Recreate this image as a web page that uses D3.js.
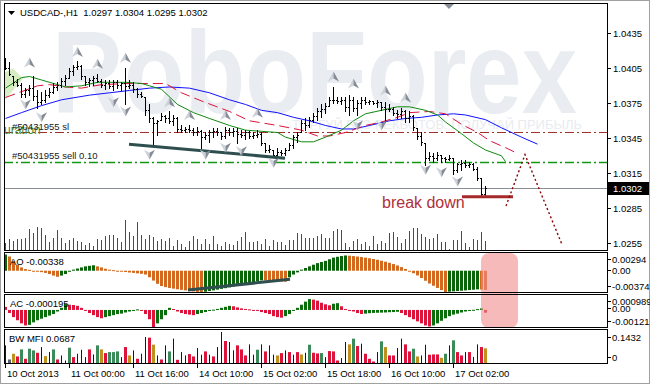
<!DOCTYPE html>
<html>
<head>
<meta charset="utf-8">
<script src="https://cdn.jsdelivr.net/npm/d3@7"></script>
<style>
  html, body { margin: 0; padding: 0; background: #fff; }
  svg { display: block; font-family: "Liberation Sans", Arial, sans-serif; }
</style>
</head>
<body>
<svg id="chart" width="650" height="384"></svg>
<script>
// ---- price bars (USDCAD H1) ----
const highs = [1.0414,1.0410,1.0398,1.0396,1.0392,1.0388,1.0391,1.0398,1.0386,1.0385,
  1.0386,1.0388,1.0392,1.0393,1.0397,1.0399,1.0405,1.0408,1.0411,1.0408,
  1.0398,1.0397,1.0398,1.0400,1.0396,1.0395,1.0395,1.0395,1.0395,1.0393,
  1.0405,1.0395,1.0393,1.0388,1.0385,1.0380,1.0374,1.0363,1.0361,1.0367,
  1.0365,1.0368,1.0365,1.0363,1.0356,1.0355,1.0356,1.0354,1.0355,1.0352,
  1.0350,1.0352,1.0354,1.0354,1.0350,1.0355,1.0354,1.0354,1.0354,1.0352,
  1.0352,1.0351,1.0350,1.0352,1.0350,1.0341,1.0339,1.0335,1.0337,1.0335,
  1.0337,1.0341,1.0348,1.0350,1.0361,1.0362,1.0363,1.0367,1.0371,1.0374,
  1.0375,1.0380,1.0389,1.0380,1.0380,1.0380,1.0382,1.0380,1.0378,1.0380,
  1.0380,1.0378,1.0377,1.0378,1.0376,1.0376,1.0374,1.0372,1.0369,1.0371,
  1.0369,1.0368,1.0365,1.0354,1.0350,1.0341,1.0333,1.0332,1.0333,1.0331,
  1.0329,1.0331,1.0328,1.0324,1.0326,1.0326,1.0325,1.0324,1.0320,1.0311,
  1.0304]
const lows = [1.0404,1.0399,1.0391,1.0390,1.0380,1.0380,1.0382,1.0378,1.0371,1.0374,
  1.0376,1.0380,1.0384,1.0386,1.0389,1.0391,1.0397,1.0399,1.0404,1.0396,
  1.0391,1.0390,1.0391,1.0393,1.0389,1.0387,1.0388,1.0386,1.0388,1.0386,
  1.0374,1.0388,1.0385,1.0380,1.0380,1.0365,1.0359,1.0338,1.0348,1.0361,
  1.0359,1.0358,1.0356,1.0350,1.0350,1.0350,1.0350,1.0348,1.0348,1.0337,
  1.0344,1.0342,1.0346,1.0348,1.0344,1.0345,1.0348,1.0347,1.0341,1.0346,
  1.0344,1.0345,1.0345,1.0346,1.0339,1.0333,1.0333,1.0329,1.0329,1.0331,
  1.0331,1.0335,1.0337,1.0342,1.0350,1.0352,1.0355,1.0359,1.0361,1.0363,
  1.0367,1.0373,1.0375,1.0375,1.0374,1.0368,1.0365,1.0368,1.0365,1.0371,
  1.0374,1.0374,1.0374,1.0372,1.0369,1.0359,1.0368,1.0365,1.0362,1.0362,
  1.0359,1.0359,1.0352,1.0344,1.0339,1.0322,1.0326,1.0325,1.0326,1.0325,
  1.0325,1.0326,1.0314,1.0316,1.0318,1.0320,1.0320,1.0318,1.0309,1.0295,
  1.0295]
const opens = [1.0410,1.0405,1.0398,1.0393,1.0391,1.0383,1.0386,1.0388,1.0381,1.0376,
  1.0378,1.0382,1.0385,1.0389,1.0391,1.0394,1.0397,1.0403,1.0406,1.0407,
  1.0398,1.0393,1.0395,1.0397,1.0394,1.0391,1.0392,1.0390,1.0393,1.0391,
  1.0392,1.0390,1.0391,1.0387,1.0383,1.0380,1.0369,1.0362,1.0358,1.0361,
  1.0364,1.0362,1.0360,1.0362,1.0353,1.0352,1.0353,1.0352,1.0350,1.0351,
  1.0346,1.0348,1.0350,1.0351,1.0350,1.0347,1.0352,1.0350,1.0351,1.0349,
  1.0348,1.0350,1.0347,1.0348,1.0349,1.0341,1.0335,1.0335,1.0331,1.0333,
  1.0332,1.0335,1.0339,1.0346,1.0350,1.0358,1.0356,1.0361,1.0364,1.0368,
  1.0370,1.0373,1.0378,1.0378,1.0377,1.0378,1.0372,1.0378,1.0371,1.0375,
  1.0378,1.0376,1.0377,1.0375,1.0376,1.0372,1.0370,1.0370,1.0367,1.0366,
  1.0368,1.0362,1.0364,1.0354,1.0347,1.0341,1.0328,1.0330,1.0328,1.0331,
  1.0328,1.0327,1.0328,1.0318,1.0323,1.0324,1.0322,1.0323,1.0319,1.0311,
  1.0297]
const closes = [1.0405,1.0400,1.0393,1.0391,1.0383,1.0386,1.0388,1.0381,1.0376,1.0378,
  1.0382,1.0385,1.0389,1.0391,1.0394,1.0397,1.0403,1.0406,1.0407,1.0398,
  1.0393,1.0395,1.0397,1.0394,1.0391,1.0392,1.0390,1.0393,1.0391,1.0392,
  1.0390,1.0391,1.0387,1.0383,1.0381,1.0369,1.0362,1.0358,1.0360,1.0364,
  1.0362,1.0360,1.0362,1.0353,1.0352,1.0353,1.0352,1.0350,1.0351,1.0346,
  1.0348,1.0350,1.0351,1.0350,1.0347,1.0352,1.0350,1.0351,1.0349,1.0348,
  1.0350,1.0347,1.0348,1.0349,1.0341,1.0335,1.0336,1.0331,1.0333,1.0332,
  1.0335,1.0339,1.0346,1.0348,1.0358,1.0356,1.0361,1.0364,1.0368,1.0370,
  1.0373,1.0378,1.0378,1.0377,1.0378,1.0372,1.0378,1.0371,1.0375,1.0378,
  1.0376,1.0377,1.0375,1.0376,1.0372,1.0370,1.0370,1.0367,1.0366,1.0368,
  1.0362,1.0364,1.0355,1.0347,1.0342,1.0328,1.0330,1.0328,1.0331,1.0328,
  1.0327,1.0328,1.0318,1.0323,1.0324,1.0322,1.0323,1.0319,1.0311,1.0297,
  1.0302]
const volumes = [400,660,560,660,660,740,1260,1000,1380,1320,
  900,480,740,1200,700,400,620,720,520,480,
  300,400,240,660,620,860,880,900,740,480,
  1800,1080,840,1680,900,680,900,760,560,660,
  560,720,240,600,360,180,560,840,640,380,
  660,360,840,340,240,480,380,300,520,780,
  1080,480,500,560,360,660,240,600,500,500,
  300,600,600,1020,960,720,720,720,840,960,
  700,720,1140,1260,1220,440,180,560,660,360,
  480,240,840,360,560,440,1020,1080,780,440,
  660,1140,1320,1320,960,780,660,720,960,480,
  500,60,600,600,1140,420,180,660,600,1060,
  540]

// Alligator lines, [bar, price] (lines run past the last bar)
const jawLine = [[0,1.0362],[4,1.0367],[9,1.0373],[14,1.0378],[21,1.0382],[26,1.0384],[31,1.0386],
  [36,1.0388],[41,1.0389],[46,1.0388],[51,1.0384],[56,1.0378],[60,1.0374],[64,1.0369],[68,1.0367],
  [72,1.0363],[76,1.0360],[80,1.0356],[84,1.0353],[87,1.0353],[91,1.0356],[96,1.0360],[100,1.0362],
  [104,1.0363],[108,1.0365],[112,1.0366],[115,1.0365],[120,1.0361],[124,1.0354],[129,1.0346],[133,1.0340]]
const teethLine = [[0,1.0380],[4,1.0385],[8,1.0390],[11,1.0391],[15,1.0389],[19,1.0388],[24,1.0391],
  [31,1.0392],[40,1.0392],[44,1.0384],[49,1.0377],[56,1.0368],[61,1.0360],[68,1.0356],[74,1.0352],
  [78,1.0347],[81,1.0347],[85,1.0350],[90,1.0356],[94,1.0359],[98,1.0363],[101,1.0367],[106,1.0368],
  [110,1.0366],[114,1.0357],[118,1.0350],[121,1.0343],[125,1.0337],[128,1.0332]]
const lipsLine = [[0,1.0388],[4,1.0397],[6,1.0398],[9,1.0395],[12,1.0392],[15,1.0389],[19,1.0390],
  [23,1.0393],[30,1.0393],[34,1.0392],[36,1.0390],[39,1.0387],[43,1.0374],[47,1.0367],[51,1.0362],
  [56,1.0356],[60,1.0352],[64,1.0351],[68,1.0350],[70,1.0346],[74,1.0342],[77,1.0342],[80,1.0346],
  [84,1.0352],[87,1.0360],[90,1.0366],[94,1.0369],[98,1.0372],[101,1.0372],[105,1.0369],[108,1.0365],
  [110,1.0359],[114,1.0349],[117,1.0341],[120,1.0335],[124,1.0330],[125,1.0325]]

// fractals
const upFractalBars = [6,18,23,30,41,46,55,63,82,87,95,100]
const upFractalPrices = [1.0410,1.0419,1.0409,1.0414,1.0376,1.0365,1.0365,1.0367,1.0398,1.0392,1.0386,1.0380]
const downFractalBars = [5,9,27,30,36,50,55,59,67,88,94,105,109,113]
const downFractalPrices = [1.0374,1.0363,1.0376,1.0368,1.0331,1.0331,1.0337,1.0334,1.0324,1.0356,1.0356,1.0318,1.0316,1.0308]

// indicators
const aoValues = [0.00285,0.00250,0.00173,0.00106,0.00058,0.00029,0.00015,-0.00006,-0.00015,-0.00025,
  -0.00038,-0.00058,-0.00086,-0.00106,-0.00086,-0.00058,-0.00019,0.00019,0.00038,0.00058,
  0.00077,0.00086,0.00096,0.00077,0.00058,0.00035,0.00019,0.00010,-0.00006,-0.00015,
  -0.00023,-0.00031,-0.00038,-0.00046,-0.00054,-0.00067,-0.00115,-0.00173,-0.00230,-0.00269,
  -0.00288,-0.00303,-0.00315,-0.00326,-0.00336,-0.00346,-0.00355,-0.00365,-0.00371,-0.00373,
  -0.00369,-0.00357,-0.00346,-0.00332,-0.00319,-0.00307,-0.00292,-0.00276,-0.00261,-0.00246,
  -0.00230,-0.00215,-0.00200,-0.00184,-0.00169,-0.00173,-0.00177,-0.00180,-0.00184,-0.00188,
  -0.00192,-0.00115,-0.00067,-0.00029,0.00019,0.00048,0.00077,0.00106,0.00134,0.00154,
  0.00173,0.00202,0.00230,0.00245,0.00258,0.00268,0.00264,0.00257,0.00249,0.00240,
  0.00230,0.00219,0.00206,0.00192,0.00176,0.00158,0.00139,0.00117,0.00092,0.00063,
  0.00031,-0.00010,-0.00044,-0.00083,-0.00128,-0.00176,-0.00225,-0.00264,-0.00303,-0.00340,
  -0.00374,-0.00368,-0.00362,-0.00357,-0.00352,-0.00346,-0.00340,-0.00334,-0.00328,-0.00331,
  -0.00338]
const acValues = [0.00022,-0.00022,-0.00051,-0.00073,-0.00095,-0.00110,-0.00106,-0.00088,-0.00073,-0.00062,
  -0.00051,-0.00040,-0.00029,-0.00011,0.00015,0.00044,0.00037,0.00035,0.00029,0.00015,
  -0.00007,-0.00022,-0.00037,-0.00051,-0.00059,-0.00051,-0.00044,-0.00037,-0.00029,-0.00026,
  -0.00018,-0.00011,-0.00004,0.00004,-0.00007,-0.00029,-0.00066,-0.00121,-0.00095,-0.00066,
  -0.00037,0.00015,0.00007,-0.00011,-0.00022,-0.00029,-0.00033,-0.00037,-0.00029,-0.00022,
  -0.00015,-0.00007,0.00002,0.00007,0.00015,0.00022,0.00029,0.00026,0.00018,0.00011,
  0.00007,0.00004,-0.00004,-0.00007,-0.00015,-0.00022,-0.00029,-0.00044,-0.00051,-0.00055,
  -0.00044,-0.00029,-0.00007,0.00015,0.00037,0.00059,0.00077,0.00073,0.00066,0.00051,
  0.00040,0.00033,0.00044,0.00048,0.00026,0.00007,-0.00004,-0.00011,-0.00022,-0.00029,
  -0.00026,-0.00023,-0.00021,-0.00020,-0.00019,-0.00018,-0.00016,-0.00015,-0.00013,-0.00022,
  -0.00037,-0.00051,-0.00066,-0.00081,-0.00095,-0.00110,-0.00117,-0.00110,-0.00095,-0.00077,
  -0.00059,-0.00044,-0.00033,-0.00026,-0.00018,-0.00011,-0.00006,0.00001,0.00006,0.00011,
  -0.000195]
const mfiValues = [0.0824,0.0183,0.0443,0.0321,0.0641,0.0214,0.0672,0.0595,0.0488,0.0748,
  0.0336,0.0519,0.0641,0.0183,0.0366,0.0137,0.0718,0.0290,0.0443,0.0626,
  0.0290,0.0641,0.0412,0.0824,0.0641,0.0473,0.0519,0.0519,0.0550,0.0290,
  0.0748,0.0366,0.0595,0.0214,0.0443,0.1206,0.1175,0.0855,0.0366,0.0183,
  0.0824,0.0550,0.1130,0.0168,0.0519,0.0366,0.0428,0.0321,0.0702,0.0400,
  0.0550,0.0400,0.0321,0.0748,0.1432,0.1023,0.0977,0.0600,0.0824,0.0641,
  0.0366,0.0870,0.0400,0.0626,0.0870,0.0550,0.0824,0.0400,0.0366,0.0473,
  0.0595,0.0519,0.0400,0.0519,0.0412,0.0488,0.0855,0.0488,0.0458,0.0473,
  0.0290,0.0565,0.0550,0.0137,0.0245,0.0977,0.0870,0.1130,0.0794,0.0901,
  0.0443,0.0214,0.0092,0.0519,0.1008,0.0748,0.0366,0.0366,0.0702,0.1130,
  0.0870,0.0550,0.0672,0.0321,0.0366,0.0855,0.0400,0.0412,0.0412,0.0260,
  0.0443,0.0824,0.1053,0.0519,0.0366,0.0519,0.0519,0.0300,0.0870,0.0748,
  0.0687]
// g = green, y = fade, n = fake, r = squat, s = none
const mfiKinds = 'nsyrgrggrn' + 'yngrnngrnn' + 'nrngyrgggn' + 'rynrnnrynr' + 'ngnrnnrrnn' +
  'rnrnnrnnrr' + 'rnngnrnnyr' + 'nrnryngrrg' + 'nrrrnnygrn' + 'rrrngyrrnn' +
  'rrgynnrrry' + 'gngrrnrnnr' + 'y'

// axes
const priceTicks = [1.0435, 1.0405, 1.0375, 1.0345, 1.0315, 1.0285, 1.0255]
const timeLabelBars = [0, 16, 32, 48, 64, 80, 96, 112]
const timeLabels = ['10 Oct 2013', '11 Oct 00:00', '11 Oct 16:00', '14 Oct 10:00',
  '15 Oct 02:00', '15 Oct 18:00', '16 Oct 10:00', '17 Oct 02:00']

// objects on the chart
const stopLossPrice = 1.0350
const sellPrice = 1.0325
const bidPrice = 1.0302
const supportLine = [[31, 1.0340], [70, 1.0328]]
const breakLine = [[114.25, 1.0295], [127, 1.0295]]
const forecastPath = [[125.25, 1.0287], [130, 1.0331], [139.25, 1.0254]]
const aoTrendLine = [[45.75, -0.00339], [71.25, -0.00151]]
const triangleZone = [[-1, 1.0400], [2, 1.0405], [4.5, 1.0396], [0, 1.0378], [-1, 1.0378]]

const svg = d3.select('#chart')
const L = 4, R = 607
const mainP = { top: 4, bottom: 251 }
const aoP = { top: 253, bottom: 293 }
const acP = { top: 295, bottom: 328 }
const mfiP = { top: 330, bottom: 364 }

const xBar = d3.scaleLinear().domain([0, 1]).range([5, 9])
const yPrice = d3.scaleLinear().domain([1.02493, 1.04601]).range([250, 4])
const yVol = d3.scaleLinear().domain([0, 1800]).range([250, 220])
const yAO = d3.scaleLinear().domain([-0.00374, 0.00294]).range([292, 254])
const yAC = d3.scaleLinear().domain([-0.00121, 0.000989]).range([327, 296])
const yMFI = d3.scaleLinear().domain([0, 0.1432]).range([363.5, 332])

const FS = 9.5
const defs = svg.append('defs')
function clip(id, p) {
  defs.append('clipPath').attr('id', id).append('rect')
    .attr('x', L + 1).attr('y', p.top + 1).attr('width', R - L - 1).attr('height', p.bottom - p.top - 1)
}
clip('clip-main', mainP); clip('clip-ao', aoP); clip('clip-ac', acP); clip('clip-mfi', mfiP)

svg.append('rect').attr('x', 0.5).attr('y', 0.5).attr('width', 649).attr('height', 383)
  .attr('fill', '#fff').attr('stroke', '#a0a0a0')

// ---- main panel ----
const gMain = svg.append('g').attr('clip-path', 'url(#clip-main)')

gMain.append('text').attr('x', 52).attr('y', 113).attr('font-size', 116).attr('font-weight', 'bold')
  .attr('textLength', 525).attr('lengthAdjust', 'spacingAndGlyphs')
  .attr('fill', '#e9edf1').text('RoboForex')
gMain.append('text').attr('x', 292).attr('y', 129).attr('font-size', 12)
  .attr('textLength', 290).attr('lengthAdjust', 'spacingAndGlyphs')
  .attr('fill', '#e8ecf0').text('ТОРГУЙ БЕЗ РЕКВОТОВ. ПОЛУЧАЙ ПРИБЫЛЬ')

gMain.append('path')
  .attr('d', d3.line().x(d => xBar(d[0])).y(d => yPrice(d[1]))(triangleZone) + 'Z')
  .attr('fill', '#d9edc4')

// order lines
gMain.append('line').attr('x1', L).attr('x2', R)
  .attr('y1', Math.round(yPrice(stopLossPrice)) + 0.5).attr('y2', Math.round(yPrice(stopLossPrice)) + 0.5)
  .attr('stroke', '#a0302c').attr('stroke-dasharray', '9,3,2,3')
gMain.append('line').attr('x1', L).attr('x2', R)
  .attr('y1', Math.round(yPrice(sellPrice)) + 0.5).attr('y2', Math.round(yPrice(sellPrice)) + 0.5)
  .attr('stroke', '#119911').attr('stroke-width', 1.3).attr('stroke-dasharray', '9,3,2,3')
gMain.append('line').attr('x1', L).attr('x2', R)
  .attr('y1', Math.round(yPrice(bidPrice)) + 0.5).attr('y2', Math.round(yPrice(bidPrice)) + 0.5)
  .attr('stroke', '#8a8f96')

// volumes
gMain.append('g').selectAll('rect').data(volumes).join('rect')
  .attr('x', (d, i) => xBar(i)).attr('width', 1)
  .attr('y', d => Math.round(yVol(d))).attr('height', d => 250 - Math.round(yVol(d)))
  .attr('fill', '#1d6b1d')

// alligator
const lineP = d3.line().x(d => xBar(d[0]) + 0.5).y(d => yPrice(d[1]))
gMain.append('path').attr('d', lineP(jawLine)).attr('fill', 'none').attr('stroke', '#1010ff')
gMain.append('path').attr('d', lineP(teethLine)).attr('fill', 'none').attr('stroke', '#dc143c')
  .attr('stroke-dasharray', '10,5')
gMain.append('path').attr('d', lineP(lipsLine)).attr('fill', 'none').attr('stroke', '#118811')

// OHLC bars
const gBars = gMain.append('g').attr('fill', '#000')
highs.forEach((h, i) => {
  const x = xBar(i)
  const yh = Math.round(yPrice(h)), yl = Math.round(yPrice(lows[i]))
  gBars.append('rect').attr('x', x).attr('y', yh).attr('width', 1).attr('height', Math.max(1, yl - yh + 1))
  gBars.append('rect').attr('x', x - 1).attr('y', Math.round(yPrice(opens[i]))).attr('width', 1).attr('height', 1)
  gBars.append('rect').attr('x', x + 1).attr('y', Math.round(yPrice(closes[i]))).attr('width', 1).attr('height', 1)
})

// drawn objects
const segP = d3.line().x(d => xBar(d[0])).y(d => yPrice(d[1]))
gMain.append('path').attr('d', segP(supportLine)).attr('stroke', '#2f4f4f').attr('stroke-width', 3)
gMain.append('path').attr('d', segP(breakLine)).attr('stroke', '#a52a2a').attr('stroke-width', 3)
gMain.append('path').attr('d', segP(forecastPath)).attr('fill', 'none').attr('stroke', '#8b0000')
  .attr('stroke-width', 1.4).attr('stroke-dasharray', '2,2.5')

// fractal arrows
function arrow(g, cx, cy, up) {
  const s = up ? 1 : -1
  g.append('path').attr('d', `M${cx},${cy - 5 * s} L${cx},${cy + 2 * s} L${cx - 5.5},${cy + 5 * s}Z`).attr('fill', '#cdd1d8')
  g.append('path').attr('d', `M${cx},${cy - 5 * s} L${cx + 5.5},${cy + 5 * s} L${cx},${cy + 2 * s}Z`).attr('fill', '#868c96')
}
const gFr = gMain.append('g')
upFractalBars.forEach((b, k) => arrow(gFr, xBar(b) + 0.5, yPrice(upFractalPrices[k]), true))
downFractalBars.forEach((b, k) => arrow(gFr, xBar(b) + 0.5, yPrice(downFractalPrices[k]), false))

gMain.append('text').attr('x', 382).attr('y', 208).attr('font-size', 16).attr('fill', '#b0303a').text('break down')
gMain.append('text').attr('x', 4).attr('y', 134).attr('font-size', 12).attr('fill', '#4e8c2a').text('uration')
gMain.append('text').attr('x', 12).attr('y', 130).attr('font-size', FS).attr('fill', '#222').text('#50431955 sl')
gMain.append('text').attr('x', 12).attr('y', 159).attr('font-size', FS).attr('fill', '#222').text('#50431955 sell 0.10')

// chart shift marker
svg.append('path').attr('d', 'M444,4 L454,4 L449,9Z').attr('fill', '#8a9099')

// title
svg.append('path').attr('d', 'M8,11 L15,11 L11.5,15Z').attr('fill', '#000')
svg.append('text').attr('x', 20).attr('y', 16).attr('font-size', FS).attr('fill', '#000')
  .attr('xml:space', 'preserve').text('USDCAD-,H1  1.0297 1.0304 1.0295 1.0302')

// price axis
const gAx = svg.append('g').attr('font-size', FS)
priceTicks.forEach(p => {
  const y = Math.round(yPrice(p)) + 0.5
  gAx.append('line').attr('x1', R).attr('x2', R + 4).attr('y1', y).attr('y2', y).attr('stroke', '#000')
  gAx.append('text').attr('x', 613).attr('y', y + 3.5).text(p.toFixed(4))
})
const yb = Math.round(yPrice(bidPrice)) + 0.5
gAx.append('rect').attr('x', 608).attr('y', yb - 6.5).attr('width', 41).attr('height', 13).attr('fill', '#000')
gAx.append('text').attr('x', 613).attr('y', yb + 3.5).attr('fill', '#fff').text(bidPrice.toFixed(4))

// ---- AO ----
const aoUp = ['#0a640a', '#d2691e']
const gAO = svg.append('g').attr('clip-path', 'url(#clip-ao)')
gAO.selectAll('rect').data(aoValues).join('rect')
  .attr('x', (d, i) => xBar(i) - 1).attr('width', 3)
  .attr('y', d => Math.min(yAO(d), yAO(0))).attr('height', d => Math.max(1, Math.abs(yAO(d) - yAO(0))))
  .attr('fill', (d, i) => (i === 0 || d > aoValues[i - 1]) ? aoUp[0] : aoUp[1])
gAO.append('path').attr('d', d3.line().x(d => xBar(d[0])).y(d => yAO(d[1]))(aoTrendLine))
  .attr('stroke', '#2f4f4f').attr('stroke-width', 3)

// ---- AC ----
const gAC = svg.append('g').attr('clip-path', 'url(#clip-ac)')
gAC.selectAll('rect').data(acValues).join('rect')
  .attr('x', (d, i) => xBar(i) - 1).attr('width', 3)
  .attr('y', d => Math.min(yAC(d), yAC(0))).attr('height', d => Math.max(1, Math.abs(yAC(d) - yAC(0))))
  .attr('fill', (d, i) => (i > 0 && d > acValues[i - 1]) ? '#0a6e0a' : '#dc143c')

// ---- BW MFI ----
const mfiColor = { g: '#3a8a5a', y: '#c0901c', n: '#0a0a80', r: '#dc143c', s: '#5a6470' }
const gMFI = svg.append('g').attr('clip-path', 'url(#clip-mfi)')
gMFI.selectAll('rect').data(mfiValues).join('rect')
  .attr('x', (d, i) => mfiKinds[i] === 'n' ? xBar(i) : xBar(i) - 1)
  .attr('width', (d, i) => mfiKinds[i] === 'n' ? 1 : 3)
  .attr('y', d => yMFI(d)).attr('height', d => yMFI(0) - yMFI(d))
  .attr('fill', (d, i) => mfiColor[mfiKinds[i]])

// highlight box over the last bars
svg.append('rect').attr('x', 481).attr('y', 253).attr('width', 37).attr('height', 75).attr('rx', 8)
  .attr('fill', '#f28c8c').attr('opacity', 0.6)

// sub-window labels
function sideLabel(y, text) {
  gAx.append('line').attr('x1', R).attr('x2', R + 4).attr('y1', y).attr('y2', y).attr('stroke', '#000')
  gAx.append('text').attr('x', 612).attr('y', y + 3.5).text(text)
}
sideLabel(259.5, '0.00294'); sideLabel(270.5, '0.00'); sideLabel(286.5, '-0.00374')
sideLabel(301.5, '0.000989'); sideLabel(308.5, '0.00'); sideLabel(321.5, '-0.00121')
sideLabel(337.5, '0.1432'); sideLabel(357.5, '0')

svg.append('text').attr('x', 10).attr('y', 265).attr('font-size', FS).text('AO -0.00338')
svg.append('text').attr('x', 10).attr('y', 307).attr('font-size', FS).text('AC -0.000195')
svg.append('text').attr('x', 9).attr('y', 342).attr('font-size', FS).text('BW MFI 0.0687')

// panel frames
;[mainP, aoP, acP, mfiP].forEach(p => {
  svg.append('rect').attr('x', L + 0.5).attr('y', p.top - 0.5).attr('width', R - L)
    .attr('height', p.bottom - p.top).attr('fill', 'none').attr('stroke', '#000')
})

// time axis
timeLabelBars.forEach((b, k) => {
  const x = xBar(b) + 0.5
  gAx.append('line').attr('x1', x).attr('x2', x).attr('y1', 364).attr('y2', 368).attr('stroke', '#000')
  gAx.append('text').attr('x', x + 1.5).attr('y', 377).text(timeLabels[k])
})
</script>
</body>
</html>
